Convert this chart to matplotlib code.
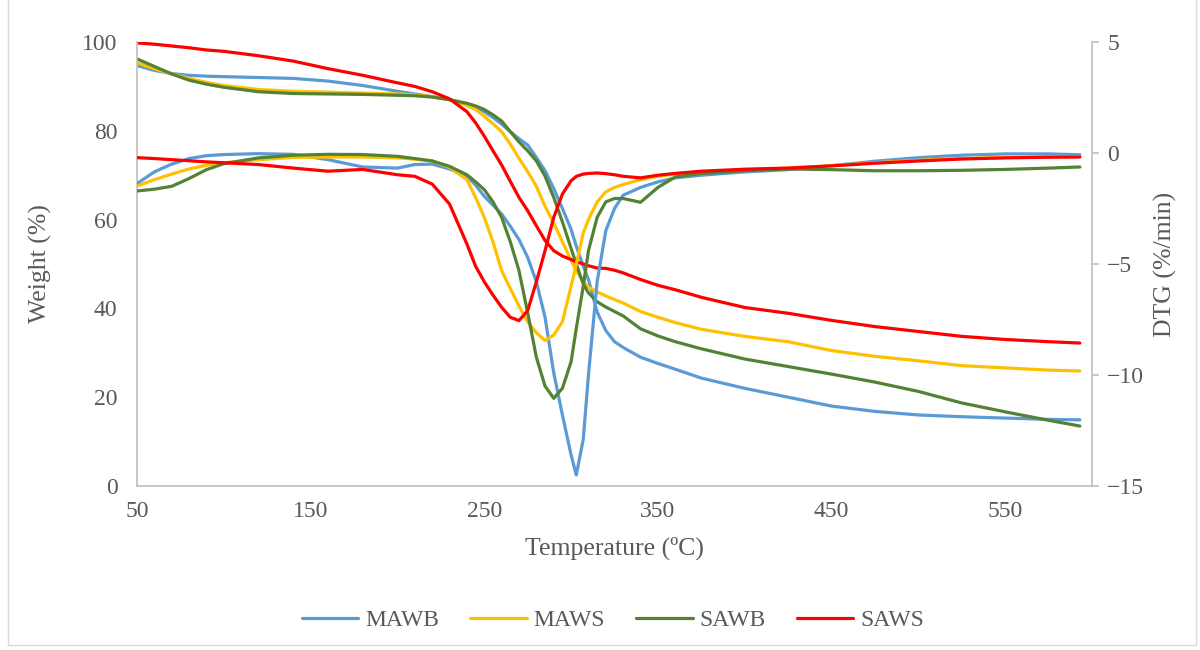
import numpy as np
import matplotlib
matplotlib.use("Agg")
import matplotlib.pyplot as plt
from matplotlib.patches import Rectangle

plt.rcParams['font.family'] = ['Liberation Serif', 'DejaVu Serif']

# temperature grid (ºC)
temp = [50, 60, 70, 80, 90, 100, 120, 140, 160, 180, 200, 210, 220, 230, 240, 245,
        250, 255, 260, 265, 270, 275, 280, 285, 290, 295, 300, 303, 307, 310, 315,
        320, 325, 330, 340, 350, 360, 375, 400, 425, 450, 475, 500, 525, 550, 575, 593]

# weight (%) - left axis
tg_mawb = [94.7, 93.6, 92.9, 92.5, 92.3, 92.2, 92.0, 91.8, 91.2, 90.2, 88.9, 88.3,
           87.7, 87.0, 86.0, 85.3, 84.3, 83.0, 81.5, 79.8, 78.2, 76.8, 74.0, 71.0,
           67.0, 62.5, 57.8, 54.0, 49.5, 46.5, 39.2, 35.0, 32.5, 31.2, 29.0, 27.6,
           26.3, 24.3, 22.0, 20.0, 18.0, 16.8, 16.0, 15.6, 15.3, 15.0, 14.9]
tg_maws = [95.3, 94.0, 92.8, 91.8, 90.9, 90.2, 89.3, 88.9, 88.7, 88.5, 88.3, 88.1,
           87.7, 87.0, 85.7, 84.8, 83.3, 81.6, 79.8, 77.0, 73.8, 70.8, 67.5, 63.0,
           59.2, 55.0, 50.8, 48.5, 46.0, 44.8, 43.7, 42.8, 42.0, 41.2, 39.3, 38.0,
           36.8, 35.3, 33.7, 32.5, 30.5, 29.2, 28.2, 27.1, 26.6, 26.1, 25.9]
tg_sawb = [96.2, 94.5, 92.8, 91.4, 90.5, 89.8, 88.8, 88.4, 88.3, 88.2, 88.0, 87.9,
           87.6, 87.0, 86.2, 85.6, 84.8, 83.6, 82.2, 79.8, 77.5, 75.5, 73.2, 69.8,
           65.0, 59.5, 53.5, 50.0, 45.5, 43.5, 41.5, 40.3, 39.3, 38.3, 35.4, 33.8,
           32.5, 30.9, 28.6, 26.9, 25.2, 23.4, 21.3, 18.7, 16.7, 14.8, 13.5]
tg_saws = [99.8, 99.5, 99.1, 98.7, 98.2, 97.9, 96.9, 95.7, 94.0, 92.5, 90.8, 90.0,
           88.8, 87.2, 84.3, 81.8, 78.8, 75.5, 72.3, 68.6, 65.0, 62.0, 58.6, 55.3,
           53.0, 51.8, 51.0, 50.5, 50.0, 49.6, 49.1, 49.0, 48.6, 48.0, 46.5, 45.2,
           44.2, 42.5, 40.2, 38.9, 37.3, 35.9, 34.8, 33.7, 33.0, 32.5, 32.2]

# DTG (%/min) - right axis
dtg_mawb = [-1.38, -0.85, -0.5, -0.25, -0.12, -0.07, -0.03, -0.06, -0.3, -0.63, -0.68, -0.52,
            -0.5, -0.72, -1.05, -1.45, -1.95, -2.35, -2.75, -3.3, -3.9, -4.7, -5.8, -7.4,
            -9.9, -11.8, -13.6, -14.5, -12.9, -10.0, -5.8, -3.5, -2.5, -1.9, -1.55, -1.3,
            -1.12, -1.0, -0.85, -0.75, -0.57, -0.37, -0.21, -0.1, -0.04, -0.04, -0.08]
dtg_maws = [-1.49, -1.2, -0.95, -0.72, -0.55, -0.44, -0.3, -0.2, -0.18, -0.18, -0.22, -0.28,
            -0.35, -0.65, -1.2, -2.0, -2.9, -4.0, -5.3, -6.1, -6.9, -7.6, -8.1, -8.45,
            -8.2, -7.6, -6.0, -5.0, -3.6, -3.0, -2.2, -1.75, -1.55, -1.42, -1.2, -1.05,
            -0.95, -0.88, -0.76, -0.68, -0.57, -0.44, -0.33, -0.25, -0.2, -0.17, -0.16]
dtg_sawb = [-1.71, -1.63, -1.5, -1.15, -0.75, -0.48, -0.22, -0.1, -0.06, -0.07, -0.15, -0.25,
            -0.36, -0.6, -0.98, -1.3, -1.65, -2.2, -2.9, -4.0, -5.3, -7.2, -9.2, -10.5,
            -11.05, -10.6, -9.4, -7.9, -6.0, -4.4, -2.9, -2.2, -2.05, -2.05, -2.22, -1.55,
            -1.08, -0.92, -0.8, -0.72, -0.75, -0.8, -0.8, -0.78, -0.74, -0.68, -0.63]
dtg_saws = [-0.21, -0.25, -0.3, -0.35, -0.4, -0.44, -0.52, -0.68, -0.82, -0.74, -0.98, -1.05,
            -1.4, -2.3, -4.1, -5.1, -5.8, -6.4, -6.95, -7.4, -7.55, -7.1, -5.8, -4.4,
            -2.9, -1.85, -1.25, -1.05, -0.95, -0.92, -0.9, -0.93, -0.98, -1.05, -1.12, -1.0,
            -0.92, -0.82, -0.73, -0.68, -0.58, -0.46, -0.36, -0.27, -0.22, -0.19, -0.18]

names = ["MAWB", "MAWS", "SAWB", "SAWS"]
colors = ["#5B9BD5", "#FFC000", "#548235", "#FF0000"]
tg_all = [tg_mawb, tg_maws, tg_sawb, tg_saws]
dtg_all = [dtg_mawb, dtg_maws, dtg_sawb, dtg_saws]

txt = "#595959"
grey = "#BFBFBF"

fig = plt.figure(figsize=(12, 6.5), dpi=100)
ax = fig.add_axes([137 / 1200, 1 - 486 / 650, 955 / 1200, 444 / 650])
ax2 = ax.twinx()

lines = []
for name, c, tg in zip(names, colors, tg_all):
    l, = ax.plot(temp, tg, color=c, lw=2.3, label=name, solid_capstyle='round')
    lines.append(l)
for c, d in zip(colors, dtg_all):
    ax2.plot(temp, d, color=c, lw=2.3, solid_capstyle='round')

ax.set_xlim(50, 600)
ax.set_ylim(0, 100)
ax2.set_ylim(-15, 5)
ax.set_xticks([50, 150, 250, 350, 450, 550])
ax.set_yticks([0, 20, 40, 60, 80, 100])
ax2.set_yticks([-15, -10, -5, 0, 5])

for a in (ax, ax2):
    for s in a.spines.values():
        s.set_visible(False)
ax.spines['left'].set_visible(True)
ax.spines['bottom'].set_visible(True)
ax2.spines['right'].set_visible(True)
for s in (ax.spines['left'], ax.spines['bottom'], ax2.spines['right']):
    s.set_color(grey)
    s.set_linewidth(1.2)

ax.tick_params(axis='both', length=0, labelsize=17, labelcolor=txt)
ax.tick_params(axis='y', pad=14)
ax.tick_params(axis='x', pad=11)
ax2.tick_params(axis='y', length=5, width=1.2, color=grey, direction='out',
                labelsize=17, labelcolor=txt, pad=6)

ax.set_xlabel("Temperature (ºC)", fontsize=18.5, color=txt, labelpad=10)
ax.set_ylabel("Weight (%)", fontsize=18.5, color=txt, labelpad=22)
ax2.set_ylabel("DTG (%/min)", fontsize=18.5, color=txt, labelpad=7)

leg = fig.legend(handles=lines, loc='center', bbox_to_anchor=(613 / 1200, 1 - 620 / 650),
                 ncol=4, frameon=False, fontsize=17, handlelength=2.4,
                 handletextpad=0.3, columnspacing=1.3)
for t in leg.get_texts():
    t.set_color(txt)

fig.patches.append(Rectangle((8 / 1200, 5 / 650), 1188 / 1200, 1.2, transform=fig.transFigure,
                             fill=False, edgecolor="#D9D9D9", lw=1))

fig.savefig("out.png", dpi=100)
